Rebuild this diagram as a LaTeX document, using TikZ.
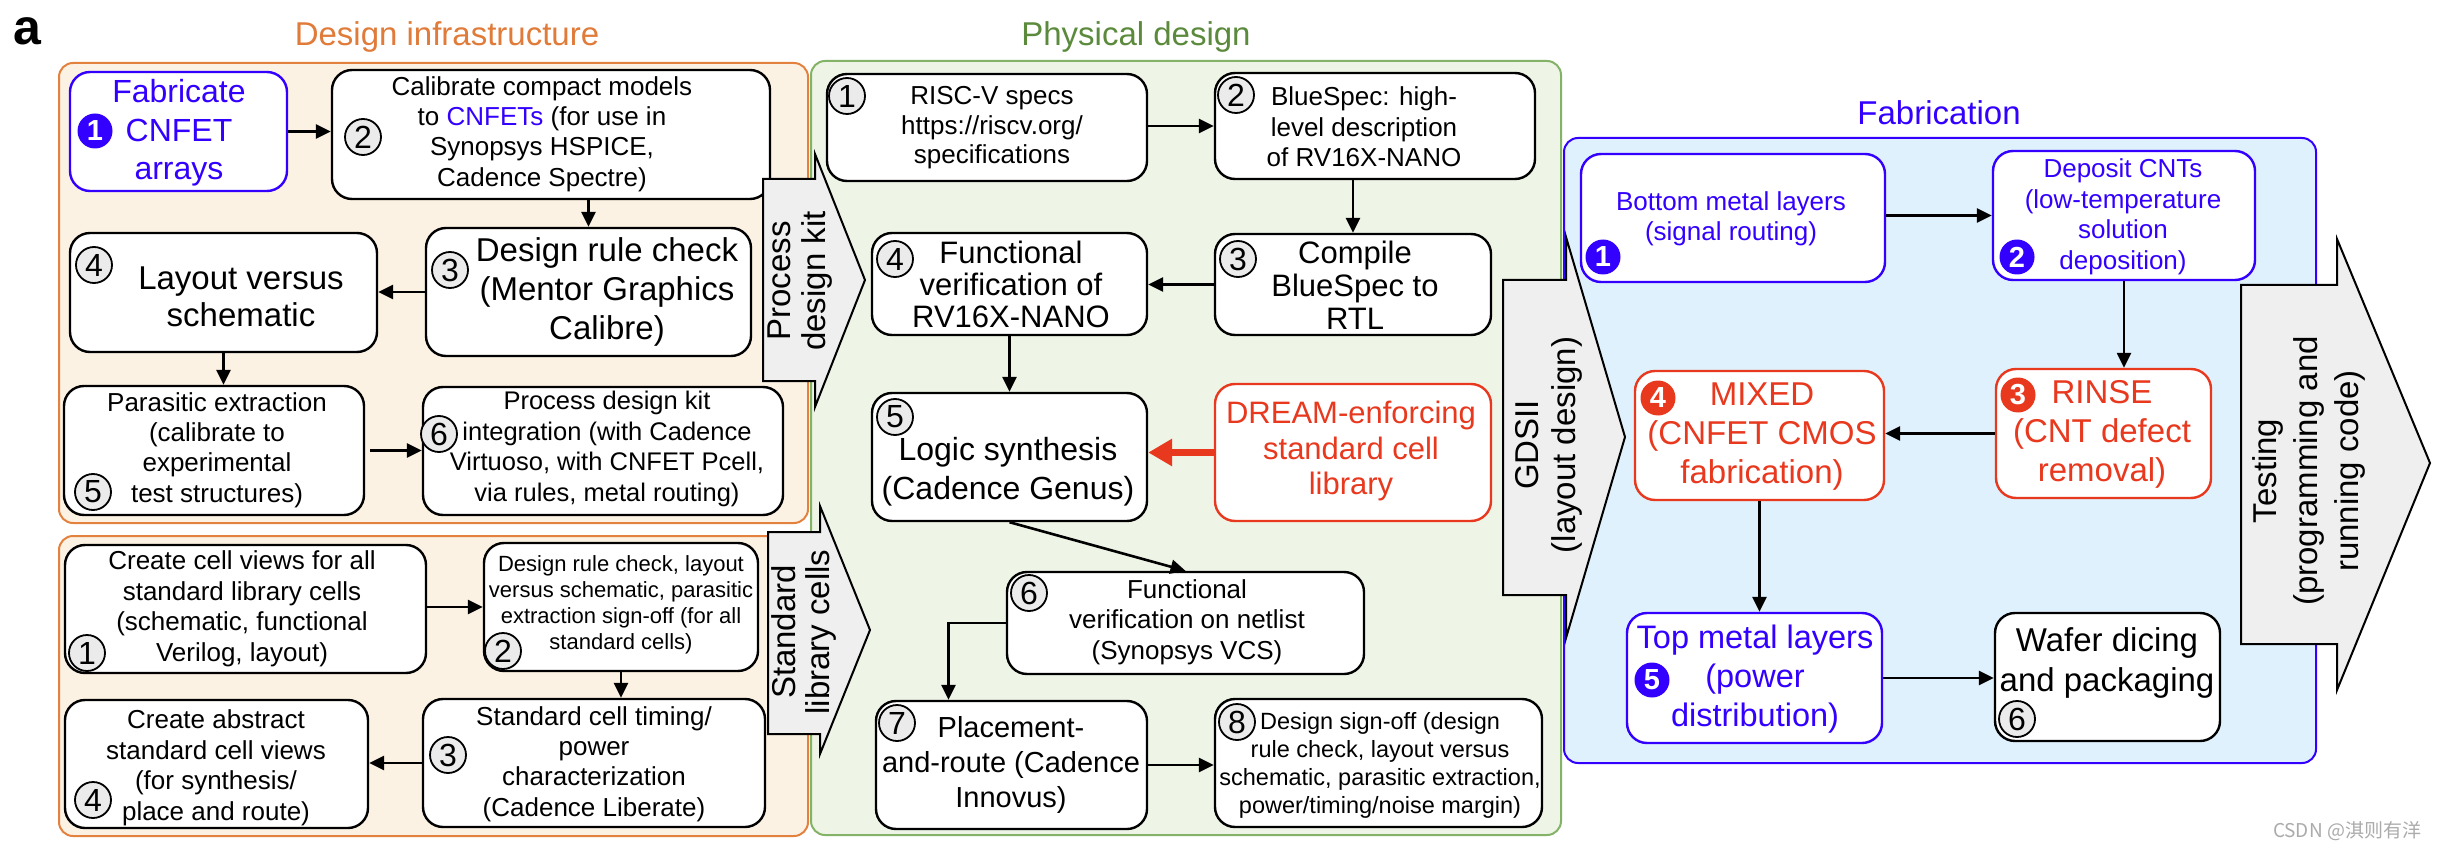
\documentclass[tikz,border=0pt]{standalone}
\usepackage{fontspec}
\setmainfont{Liberation Sans}
\newfontfamily\cjkfont{Noto Sans CJK SC}
\usetikzlibrary{arrows.meta,fit,calc}
\newcommand\myfs[2]{\fontsize{#1}{#2}\selectfont}
\definecolor{fabblue}{HTML}{3300FF}
\definecolor{dred}{HTML}{E8381E}
\definecolor{torange}{HTML}{E07B39}
\definecolor{oborder}{HTML}{E3823F}
\definecolor{ofill}{HTML}{FBF2E3}
\definecolor{gborder}{HTML}{82B366}
\definecolor{gfill}{HTML}{EEF5E6}
\definecolor{tgreen}{HTML}{5B8A3C}
\definecolor{bfill}{HTML}{DFF1FC}
\definecolor{agray}{HTML}{EFEFEF}
\definecolor{cgray}{HTML}{EBEBEB}
\definecolor{wmgray}{HTML}{ABABAB}
\begin{document}
\begin{tikzpicture}[x=1pt,y=-1pt,
  box/.style={draw=black, line width=2.4pt, rounded corners=20pt, fill=white, inner sep=0pt},
  cont/.style={line width=2pt, rounded corners=14pt, inner sep=0pt},
  txt/.style={align=center, inner sep=0pt},
  arr/.style={line width=2.6pt, -{Triangle[length=15pt,width=14pt]}},
  redarr/.style={draw=dred, line width=7pt, -{Triangle[length=24pt,width=26pt]}},
  blk/.style={draw=black, fill=agray, line width=2pt, line join=miter},
  num/.style={circle, draw=black, fill=cgray, line width=1.8pt, minimum size=36pt, inner sep=0pt, font=\myfs{32}{32}},
  numf/.style={circle, fill=#1, text=white, minimum size=35pt, inner sep=0pt, font=\myfs{29}{29}\bfseries},
]
\fill[white] (0,0) rectangle (2438,850);
\useasboundingbox (0,0) rectangle (2438,850);

% containers
\node[cont, draw=oborder, fill=ofill, fit={(59,63)(808,523)}] (DI) {};
\node[cont, draw=oborder, fill=ofill, fit={(59,536)(808,836)}] (SL) {};
\node[cont, draw=gborder, fill=gfill, fit={(811,61)(1561,835)}] (PD) {};
\node[cont, draw=fabblue, fill=bfill, fit={(1564,138)(2316,763)}] (FB) {};

% titles
\node[font=\bfseries\myfs{50}{50}, inner sep=0pt] (lbla) at (27,31) {a};
\node[font=\myfs{33}{33}, text=torange, inner sep=0pt] (tDI) at (447,37) {Design infrastructure};
\node[font=\myfs{33}{33}, text=tgreen, inner sep=0pt] (tPD) at (1136,37) {Physical design};
\node[font=\myfs{33}{33}, text=fabblue, inner sep=0pt] (tFB) at (1939,113) {Fabrication};

% design infrastructure boxes
\node[box, draw=fabblue, fit={(70,72)(287,191)}] (D1) {};
\node[box, fit={(332,70)(770,199)}] (D2) {};
\node[box, fit={(426,228)(751,356)}] (D3) {};
\node[box, fit={(70,233)(377,352)}] (D4) {};
\node[box, fit={(64,386)(364,515)}] (D5) {};
\node[box, fit={(423,387)(783,515)}] (D6) {};

\node[txt, text=fabblue, font=\myfs{32}{38.5}] (tD1) at (179,133) {Fabricate\\CNFET\\arrays};
\node[numf=fabblue] (nD1) at (95,131) {1};
\node[txt, font=\myfs{26}{30.4}] (tD2) at (542,134) {Calibrate compact models\\to \textcolor{fabblue}{CNFETs} (for use in\\Synopsys HSPICE,\\Cadence Spectre)};
\node[num] (nD2) at (363,137) {2};
\node[txt, font=\myfs{33}{39}] (tD3) at (607,292) {Design rule check\\(Mentor Graphics\\Calibre)};
\node[num] (nD3) at (450,270) {3};
\node[txt, font=\myfs{33}{37}] (tD4) at (241,297) {Layout versus\\schematic};
\node[num] (nD4) at (94,265) {4};
\node[txt, font=\myfs{26}{30.4}] (tD5) at (217,450) {Parasitic extraction\\(calibrate to\\experimental\\test structures)};
\node[num] (nD5) at (93,492) {5};
\node[txt, font=\myfs{25.5}{30.6}] (tD6) at (607,449) {Process design kit\\integration (with Cadence\\Virtuoso, with CNFET Pcell,\\via rules, metal routing)};
\node[num] (nD6) at (439,434) {6};

% standard library boxes
\node[box, fit={(65,545)(426,673)}] (S1) {};
\node[box, fit={(484,543)(758,671)}] (S2) {};
\node[box, fit={(423,699)(765,827)}] (S3) {};
\node[box, fit={(65,700)(368,828)}] (S4) {};

\node[txt, font=\myfs{26}{30.5}] (tS1) at (242,609) {Create cell views for all\\standard library cells\\(schematic, functional\\Verilog, layout)};
\node[num] (nS1) at (87,653) {1};
\node[txt, font=\myfs{22}{26}] (tS2) at (621,605) {Design rule check, layout\\versus schematic, parasitic\\extraction sign-off (for all\\standard cells)};
\node[num] (nS2) at (503,651) {2};
\node[txt, font=\myfs{26}{30.3}] (tS3) at (594,764) {Standard cell timing/\\power\\characterization\\(Cadence Liberate)};
\node[num] (nS3) at (448,755) {3};
\node[txt, font=\myfs{26}{30.5}] (tS4) at (216,768) {Create abstract\\standard cell views\\(for synthesis/\\place and route)};
\node[num] (nS4) at (93,800) {4};

% physical design boxes
\node[box, fit={(827,74)(1147,181)}] (P1) {};
\node[box, fit={(1215,73)(1535,179)}] (P2) {};
\node[box, fit={(1215,234)(1491,335)}] (P3) {};
\node[box, fit={(872,233)(1147,335)}] (P4) {};
\node[box, fit={(872,393)(1147,521)}] (P5) {};
\node[box, draw=dred, fit={(1215,384)(1491,521)}] (DR) {};
\node[box, fit={(1007,572)(1364,674)}] (P6) {};
\node[box, fit={(876,701)(1147,829)}] (P7) {};
\node[box, fit={(1215,699)(1542,827)}] (P8) {};

\node[txt, font=\myfs{26}{29.5}] (tP1) at (992,128) {RISC-V specs\\https://riscv.org/\\specifications};
\node[num] (nP1) at (847,96) {1};
\node[txt, font=\myfs{26}{30.5}] (tP2) at (1364,127) {BlueSpec: high-\\level description\\of RV16X-NANO};
\node[num] (nP2) at (1236,95) {2};
\node[txt, font=\myfs{31}{33}] (tP3) at (1355,285) {Compile\\BlueSpec to\\RTL};
\node[num] (nP3) at (1238,259) {3};
\node[txt, font=\myfs{31}{32}] (tP4) at (1011,284) {Functional\\verification of\\RV16X-NANO};
\node[num] (nP4) at (895,259) {4};
\node[txt, font=\myfs{32}{39}] (tP5) at (1008,472) {Logic synthesis\\(Cadence Genus)};
\node[num] (nP5) at (895,417) {5};
\node[txt, text=dred, font=\myfs{31}{35.5}] (tDR) at (1351,451) {DREAM-enforcing\\standard cell\\library};
\node[txt, font=\myfs{26}{30.5}] (tP6) at (1187,622) {Functional\\verification on netlist\\(Synopsys VCS)};
\node[num] (nP6) at (1029,593) {6};
\node[txt, font=\myfs{29}{35}] (tP7) at (1011,765) {Placement-\\and-route (Cadence\\Innovus)};
\node[num] (nP7) at (897,723) {7};
\node[txt, font=\myfs{23.5}{28}] (tP8) at (1380,765) {Design sign-off (design\\rule check, layout versus\\schematic, parasitic extraction,\\power/timing/noise margin)};
\node[num] (nP8) at (1237,722) {8};

% fabrication boxes
\node[box, draw=fabblue, fit={(1581,154)(1885,282)}] (F1) {};
\node[box, draw=fabblue, fit={(1993,151)(2255,280)}] (F2) {};
\node[box, draw=dred, fit={(1996,369)(2211,498)}] (F3) {};
\node[box, draw=dred, fit={(1635,371)(1884,500)}] (F4) {};
\node[box, draw=fabblue, fit={(1627,613)(1882,743)}] (F5) {};
\node[box, fit={(1995,613)(2220,741)}] (F6) {};

\node[txt, text=fabblue, font=\myfs{26}{30}] (tF1) at (1731,219) {Bottom metal layers\\(signal routing)};
\node[numf=fabblue] (nF1) at (1603,257) {1};
\node[txt, text=fabblue, font=\myfs{26}{30.5}] (tF2) at (2123,217) {Deposit CNTs\\(low-temperature\\solution\\deposition)};
\node[numf=fabblue] (nF2) at (2017,257) {2};
\node[txt, text=dred, font=\myfs{33}{39}] (tF3) at (2102,434) {RINSE\\(CNT defect\\removal)};
\node[numf=dred] (nF3) at (2018,395) {3};
\node[txt, text=dred, font=\myfs{33}{39}] (tF4) at (1762,437) {MIXED\\(CNFET CMOS\\fabrication)};
\node[numf=dred] (nF4) at (1658,398) {4};
\node[txt, text=fabblue, font=\myfs{32.5}{39}] (tF5) at (1755,679) {Top metal layers\\(power\\distribution)};
\node[numf=fabblue] (nF5) at (1652,680) {5};
\node[txt, font=\myfs{33}{40}] (tF6) at (2107,663) {Wafer dicing\\and packaging};
\node[num] (nF6) at (2017,719) {6};

% connectors
\draw[arr] (D1.east) -- (D2.west |- D1.east);
\draw[arr] (D2.south -| D3.north) -- (D3.north);
\draw[arr] (D3.west) -- (D4.east |- D3.west);
\draw[arr] (D4.south) -- (D5.north -| D4.south);
\draw[arr] ([xshift=5pt]D5.east) -- (D6.west |- D5.east);
\draw[arr] (S1.east |- S2.west) -- (S2.west);
\draw[arr] (S2.south) -- (S3.north -| S2.south);
\draw[arr] (S3.west) -- (S4.east |- S3.west);
\draw[arr] (P1.east |- P2.west) -- (P2.west);
\draw[arr] (P2.south -| P3.north) -- (P3.north);
\draw[arr] (P3.west) -- (P4.east |- P3.west);
\draw[arr] (P4.south) -- (P5.north -| P4.south);
\draw[redarr] (DR.west) -- (P5.east |- DR.west);
\draw[arr] (P5.south) -- (P6.north);
\draw[arr] (P6.west) -| ([xshift=-63pt]P7.north);
\draw[arr] (P7.east) -- (P8.west |- P7.east);
\draw[arr] (F1.east |- F2.west) -- (F2.west);
\draw[arr] (F2.south) -- (F3.north -| F2.south);
\draw[arr] (F3.west) -- (F4.east |- F3.west);
\draw[arr] (F4.south) -- (F5.north -| F4.south);
\draw[arr] (F5.east) -- (F6.west |- F5.east);

% block arrows
\draw[blk] (763,179) -- (815,179) -- (815,154) -- (865,280) -- (815,407) -- (815,381) -- (763,381) -- cycle;
\draw[blk] (768,532) -- (820,532) -- (820,506) -- (870,630) -- (820,754) -- (820,734) -- (768,734) -- cycle;
\draw[blk] (1503,280) -- (1566,280) -- (1566,237) -- (1625,437) -- (1566,638) -- (1566,595) -- (1503,595) -- cycle;
\draw[blk] (2241,285) -- (2337,285) -- (2337,239) -- (2430,463) -- (2337,690) -- (2337,644) -- (2241,644) -- cycle;
\node[txt, rotate=90, font=\myfs{33}{35}] (lPDK) at (800,281) {Process\\design kit};
\node[txt, rotate=90, font=\myfs{33}{34}] (lSLC) at (804,632) {Standard\\library cells};
\node[txt, rotate=90, font=\myfs{33}{37}] (lGDS) at (1549,445) {GDSII\\(layout design)};
\node[txt, rotate=90, font=\myfs{33}{41}] (lTST) at (2309,471) {Testing\\(programming and\\running code)};

\node[font=\cjkfont\myfs{19}{19}, text=wmgray, inner sep=0pt] (wm) at (2347,831) {CSDN @淇则有洋};
\end{tikzpicture}
\end{document}
